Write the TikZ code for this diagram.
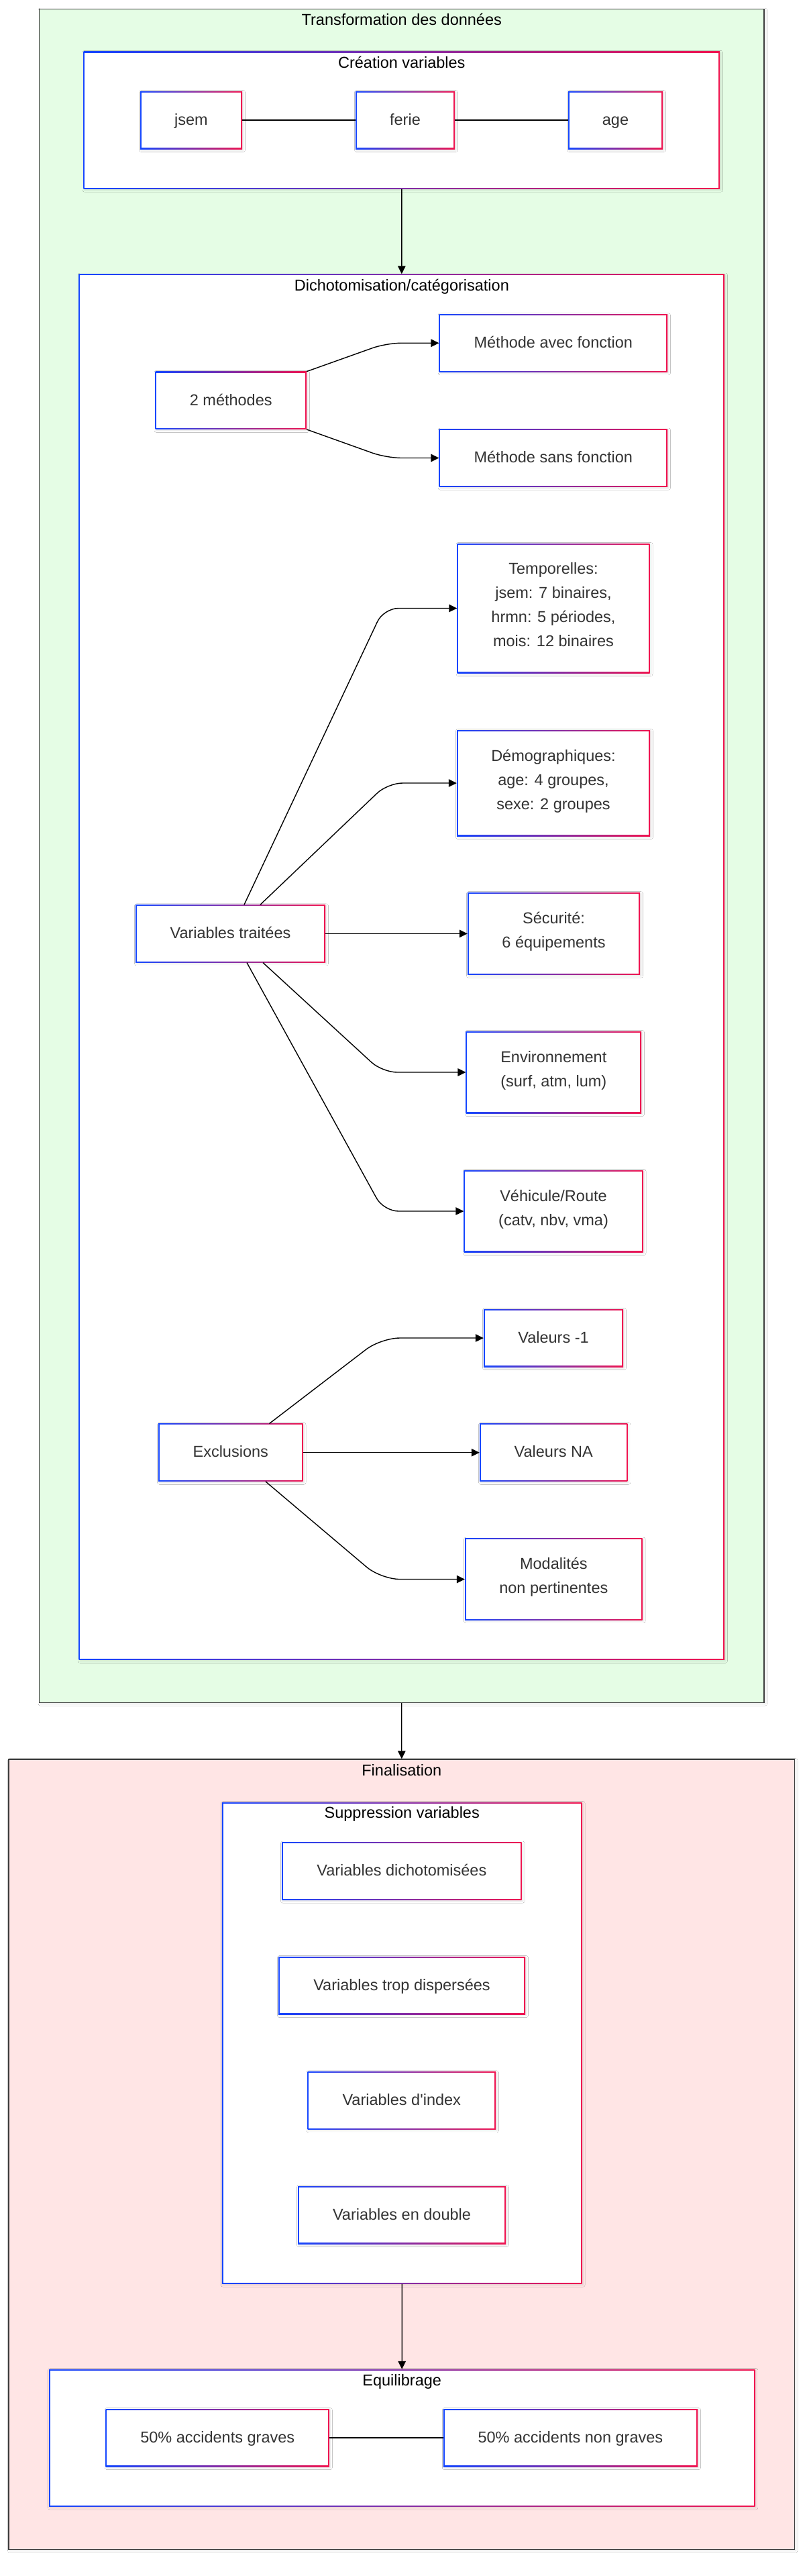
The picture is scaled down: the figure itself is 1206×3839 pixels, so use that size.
\documentclass[tikz,border=0pt]{standalone}
\usepackage{fontspec}
\setmainfont{Liberation Sans}
\usetikzlibrary{arrows.meta,shadows.blur}
\definecolor{cblue}{RGB}{20,70,255}
\definecolor{cred}{RGB}{240,20,80}
\definecolor{txt}{RGB}{51,51,51}
\definecolor{greenbg}{RGB}{229,253,229}
\definecolor{pinkbg}{RGB}{255,229,229}
\definecolor{frame}{RGB}{60,60,60}

\begin{document}
\begin{tikzpicture}[x=1pt,y=-1pt,font=\fontsize{23.5}{36}\selectfont]
        \tikzstyle{soft shadow}=[blur shadow={shadow xshift=1.5pt,shadow yshift=-1.5pt,shadow blur radius=3pt,shadow opacity=12}]
        \tikzstyle{grad box}=[rectangle,fill=white,inner sep=0,soft shadow,
          path picture={
            \shade[left color=cblue,right color=cred] (path picture bounding box.south west) rectangle (path picture bounding box.north east);
            \fill[white] ([shift={(1.7pt,1.7pt)}]path picture bounding box.south west) rectangle ([shift={(-1.7pt,-1.7pt)}]path picture bounding box.north east);
          }]
        \tikzstyle{var node}=[grad box,text=txt,align=center,minimum height=86pt,
          execute at begin node=\strut,execute at end node=\strut]
        \tikzstyle{group}=[rectangle,draw=frame,line width=1.4pt,inner sep=0,soft shadow]
        \tikzstyle{title}=[text=black,inner sep=0,execute at begin node=\strut]
        \tikzstyle{link}=[line width=1.4pt]
        \tikzstyle{arrow}=[link,-{Triangle[length=12pt,width=11.5pt]}]
        \tikzstyle{curve link}=[arrow,rounded corners=22pt]

        \fill[white] (0,0) rectangle (1206,3839);
        \useasboundingbox (0,0) rectangle (1206,3839);

        % Transformation des donnees
        \node(trans)[group,fill=greenbg,minimum width=1080.5pt,minimum height=2524pt] at (598.75,1275.5) {};
        \node(trans-t)[title] at (598.75,30) {Transformation des données};

        \node(crea)[grad box,minimum width=948.4pt,minimum height=204.9pt] at (598.8,179.25) {};
        \node(crea-t)[title] at (598.8,93.8) {Création variables};
        \node(jsem)[var node,minimum width=152pt] at (285,179) {jsem};
        \node(ferie)[var node,minimum width=148pt] at (604,179) {ferie};
        \node(age)[var node,minimum width=141pt] at (917.5,179) {age};

        \node(dicho)[grad box,minimum width=962.3pt,minimum height=2065.2pt] at (598.85,1441.1) {};
        \node(dicho-t)[title] at (598.85,426) {Dichotomisation/catégorisation};
        \node(meth)[var node,minimum width=225.5pt] at (344.25,596.8) {2 méthodes};
        \node(avec)[var node,minimum width=340.4pt] at (824.8,511.25) {Méthode avec fonction};
        \node(sans)[var node,minimum width=340.4pt] at (824.8,682.5) {Méthode sans fonction};
        \node(vt)[var node,minimum width=283pt] at (343.5,1391.4) {Variables traitées};
        \node(temp)[var node,minimum width=287pt,minimum height=193pt] at (825,906.5) {Temporelles:\\jsem: 7 binaires,\\hrmn: 5 périodes,\\mois: 12 binaires};
        \node(demo)[var node,minimum width=288pt,minimum height=158pt] at (825,1167) {Démographiques:\\age: 4 groupes,\\sexe: 2 groupes};
        \node(secu)[var node,minimum width=257pt,minimum height=122.6pt] at (825.5,1391.4) {Sécurité:\\6 équipements};
        \node(env)[var node,minimum width=261.4pt,minimum height=122pt] at (825.3,1598) {Environnement\\(surf, atm, lum)};
        \node(vehi)[var node,minimum width=267pt,minimum height=122pt] at (825,1805) {Véhicule/Route\\(catv, nbv, vma)};
        \node(excl)[var node,minimum width=215.5pt] at (343.75,2164.75) {Exclusions};
        \node(val1)[var node,minimum width=208pt] at (825,1994) {Valeurs -1};
        \node(valna)[var node,minimum width=220.4pt] at (825.2,2164.75) {Valeurs NA};
        \node(moda)[var node,minimum width=264.7pt,minimum height=121.8pt] at (825.35,2353.5) {Modalités\\non pertinentes};

        % Finalisation
        \node(fin)[group,fill=pinkbg,minimum width=1171.6pt,minimum height=1177.5pt] at (598.8,3210.75) {};
        \node(fin-t)[title] at (598.8,2639.5) {Finalisation};

        \node(supp)[grad box,minimum width=536.9pt,minimum height=717.6pt] at (599.25,3044.8) {};
        \node(supp-t)[title] at (599.25,2702.7) {Suppression variables};
        \node(dich)[var node,minimum width=357.7pt] at (598.85,2788.45) {Variables dichotomisées};
        \node(disp)[var node,minimum width=368pt] at (599,2959) {Variables trop dispersées};
        \node(idx)[var node,minimum width=280.5pt] at (598.75,3130.3) {Variables d\textquotesingle index};
        \node(dbl)[var node,minimum width=310pt] at (599,3301) {Variables en double};

        \node(equi)[grad box,minimum width=1052.4pt,minimum height=204.5pt] at (599.2,3633.25) {};
        \node(equi-t)[title] at (599.2,3548) {Equilibrage};
        \node(g50)[var node,minimum width=333.1pt] at (324.25,3633) {50\% accidents graves};
        \node(ng50)[var node,minimum width=379.2pt] at (850.4,3633) {50\% accidents non graves};

        % connexions
        \draw[link] (jsem) -- (ferie);
        \draw[link] (ferie) -- (age);
        \draw[arrow] (crea) -- (dicho);
        \draw[curve link] (meth.north east) -- (576,511.25) -- (avec.west);
        \draw[curve link] (meth.south east) -- (576,682.5) -- (sans.west);
        \draw[curve link] ([xshift=20.5pt]vt.north) -- (572,906.5) -- (temp.west);
        \draw[curve link] ([xshift=44.5pt]vt.north) -- (578,1167) -- (demo.west);
        \draw[arrow] (vt) -- (secu);
        \draw[curve link] ([xshift=48.5pt]vt.south) -- (570,1598) -- (env.west);
        \draw[curve link] ([xshift=24.5pt]vt.south) -- (572,1805) -- (vehi.west);
        \draw[curve link,rounded corners=28pt] ([xshift=57.75pt]excl.north) -- (568,1994) -- (val1.west);
        \draw[arrow] (excl) -- (valna);
        \draw[curve link,rounded corners=28pt] ([xshift=52.25pt]excl.south) -- (568,2353.5) -- (moda.west);
        \draw[arrow] (trans) -- (fin);
        \draw[arrow] (supp) -- (equi);
        \draw[link] (g50) -- (ng50);
\end{tikzpicture}
\end{document}
